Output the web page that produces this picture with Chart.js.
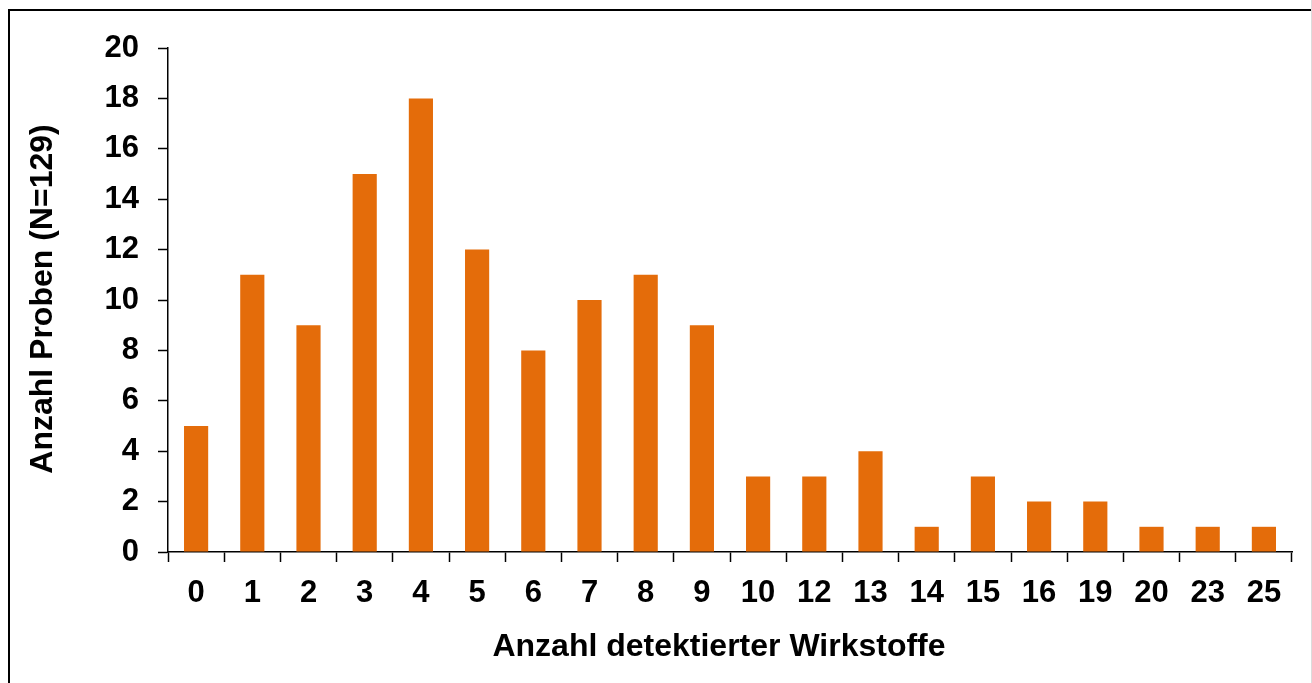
<!DOCTYPE html>
<html>
<head>
<meta charset="utf-8">
<script src="https://cdn.jsdelivr.net/npm/chart.js@4"></script>
<style>
    html, body { margin: 0; padding: 0; background: #fff; }
    #wrap { position: relative; width: 1312px; height: 683px; overflow: hidden; }
    #frame { position: absolute; left: 8px; top: 9px; width: 1400px; height: 800px;
             border-left: 2px solid #000; border-top: 2px solid #000; }
    #edge { position: absolute; right: 0; top: 0; width: 1px; height: 683px; background: #dcdcdc; }
    canvas { position: absolute; left: 0; top: 0; }
</style>
</head>
<body>
<div id="wrap">
    <div id="frame"></div>
    <div id="edge"></div>
    <canvas id="chart" width="1312" height="683"></canvas>
</div>
<script>
const categories = ['0', '1', '2', '3', '4', '5', '6', '7', '8', '9', '10', '12', '13', '14', '15', '16', '19', '20', '23', '25'];
const sampleCounts = [5, 11, 9, 15, 18, 12, 8, 10, 11, 9, 3, 3, 4, 1, 3, 2, 2, 1, 1, 1];
const yTicks = [0, 2, 4, 6, 8, 10, 12, 14, 16, 18, 20];
const xTitle = 'Anzahl detektierter Wirkstoffe';
const yTitle = 'Anzahl Proben (N=129)';

const FONT = '"Liberation Sans", Arial, sans-serif';

// Achsentitel selbst zeichnen, damit die Position genau passt
const axisTitles = {
    id: 'axisTitles',
    afterDraw(chart) {
        const { ctx, chartArea } = chart;
        ctx.save();
        ctx.fillStyle = '#000';
        ctx.font = 'bold 32px ' + FONT;
        ctx.textAlign = 'center';
        ctx.textBaseline = 'alphabetic';
        ctx.fillText(xTitle, chartArea.left + 551, chartArea.bottom + 104);
        ctx.translate(52, (chartArea.top + chartArea.bottom) / 2 - 1);
        ctx.rotate(-Math.PI / 2);
        ctx.fillText(yTitle, 0, 0);
        ctx.restore();
    }
};

const ctx = document.getElementById('chart').getContext('2d');
new Chart(ctx, {
    type: 'bar',
    data: {
        labels: categories,
        datasets: [{
            data: sampleCounts,
            backgroundColor: '#E46C0A',
            borderWidth: 0,
            categoryPercentage: 1,
            barPercentage: 0.43
        }]
    },
    options: {
        responsive: false,
        animation: false,
        layout: { padding: { left: 0, top: 48, right: 20, bottom: 0 } },
        plugins: {
            legend: { display: false },
            tooltip: { enabled: false }
        },
        scales: {
            x: {
                afterFit: (scale) => { scale.height = 131; },
                grid: {
                    offset: true,
                    drawOnChartArea: false,
                    drawTicks: true,
                    tickLength: 10,
                    tickWidth: 1.5,
                    color: '#000'
                },
                border: { display: true, color: '#000', width: 1.5 },
                ticks: {
                    color: '#000',
                    padding: 13,
                    maxRotation: 0,
                    autoSkip: false,
                    font: { family: FONT, size: 31, weight: 'bold' }
                }
            },
            y: {
                min: 0,
                max: 20,
                afterFit: (scale) => { scale.width = 168; },
                afterBuildTicks: (scale) => { scale.ticks = yTicks.map(v => ({ value: v })); },
                grid: {
                    drawOnChartArea: false,
                    drawTicks: true,
                    tickLength: 10,
                    tickWidth: 1.5,
                    color: '#000'
                },
                border: { display: true, color: '#000', width: 1.5 },
                ticks: {
                    color: '#000',
                    padding: 19,
                    font: { family: FONT, size: 31, weight: 'bold' }
                }
            }
        }
    },
    plugins: [axisTitles]
});
</script>
</body>
</html>
